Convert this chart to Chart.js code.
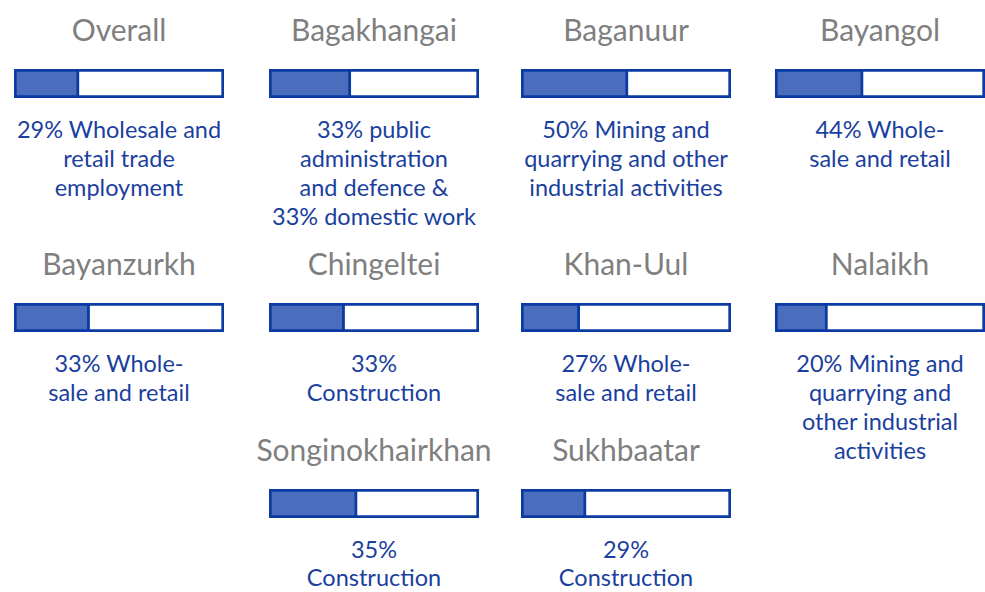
<!DOCTYPE html>
<html>
<head>
<meta charset="utf-8">
<script src="https://cdn.jsdelivr.net/npm/chart.js@4"></script>
<style>
  html, body { margin: 0; padding: 0; background: #ffffff; }
  #wrap { position: relative; width: 985px; height: 592px; overflow: hidden; font-family: 'Lato', sans-serif; }
  .title { position: absolute; width: 260px; text-align: center; font-size: 30px; line-height: 36px; color: #7f7f7f; white-space: nowrap; }
  .caption { position: absolute; width: 260px; text-align: center; font-size: 23.5px; color: #1b3f9e; white-space: nowrap; }
  canvas { position: absolute; }
</style>
</head>
<body>
<div id="wrap"></div>
<script>
const districts = ['Overall', 'Bagakhangai', 'Baganuur', 'Bayangol', 'Bayanzurkh',
                   'Chingeltei', 'Khan-Uul', 'Nalaikh', 'Songinokhairkhan', 'Sukhbaatar'];
const fillShares = [31, 39, 51, 42, 36, 36, 28, 25, 42, 31];
const fullBar = [100];

const captions = [
    ['29% Wholesale and', 'retail trade', 'employment'],
    ['33% public', 'administration', 'and defence &', '33% domestic work'],
    ['50% Mining and', 'quarrying and other', 'industrial activities'],
    ['44% Whole-', 'sale and retail'],
    ['33% Whole-', 'sale and retail'],
    ['33%', 'Construction'],
    ['27% Whole-', 'sale and retail'],
    ['20% Mining and', 'quarrying and', 'other industrial', 'activities'],
    ['35%', 'Construction'],
    ['29%', 'Construction']
];

// Grid slot (column, row) for every panel
const slotCol = [0, 1, 2, 3, 0, 1, 2, 3, 1, 2];
const slotRow = [0, 0, 0, 0, 1, 1, 1, 1, 2, 2];

const colLeft = [14, 269, 521, 775];
const rowBarTop = [69, 303, 489];
const rowLineHeight = [29.3, 29.3, 28];
const barW = 210, barH = 29;

const BORDER = '#0b3aa3';
const FILL = '#4a6ebd';

const wrap = document.getElementById('wrap');

districts.forEach(function (name, i) {
    const left = colLeft[slotCol[i]];
    const top = rowBarTop[slotRow[i]];
    const lh = rowLineHeight[slotRow[i]];
    const center = left + barW / 2;

    const t = document.createElement('div');
    t.className = 'title';
    t.textContent = name;
    t.style.left = (center - 130) + 'px';
    t.style.top = (top - 58) + 'px';
    wrap.appendChild(t);

    // first baseline sits ~69px below the bar top
    const c = document.createElement('div');
    c.className = 'caption';
    c.innerHTML = captions[i].join('<br>');
    c.style.lineHeight = lh + 'px';
    c.style.left = (center - 130) + 'px';
    c.style.top = (top + 69.3 - (lh - 28.2) / 2 - 23.2) + 'px';
    wrap.appendChild(c);

    const canvas = document.createElement('canvas');
    canvas.width = barW;
    canvas.height = barH;
    canvas.style.left = left + 'px';
    canvas.style.top = top + 'px';
    wrap.appendChild(canvas);

    new Chart(canvas, {
        type: 'bar',
        data: {
            labels: [name],
            datasets: [{
                label: 'Share',
                data: [fillShares[i]],
                backgroundColor: FILL,
                borderColor: BORDER,
                borderWidth: 3,
                borderSkipped: false,
                grouped: false,
                order: 0
            }, {
                label: 'Total',
                data: fullBar,
                backgroundColor: '#ffffff',
                borderColor: BORDER,
                borderWidth: 3,
                borderSkipped: false,
                grouped: false,
                order: 1
            }]
        },
        options: {
            indexAxis: 'y',
            responsive: false,
            animation: false,
            barPercentage: 1,
            categoryPercentage: 1,
            layout: { padding: 0 },
            plugins: {
                legend: { display: false },
                tooltip: { enabled: false }
            },
            scales: {
                x: { display: false, min: 0, max: 100 },
                y: { display: false }
            }
        }
    });
});
</script>
</body>
</html>
